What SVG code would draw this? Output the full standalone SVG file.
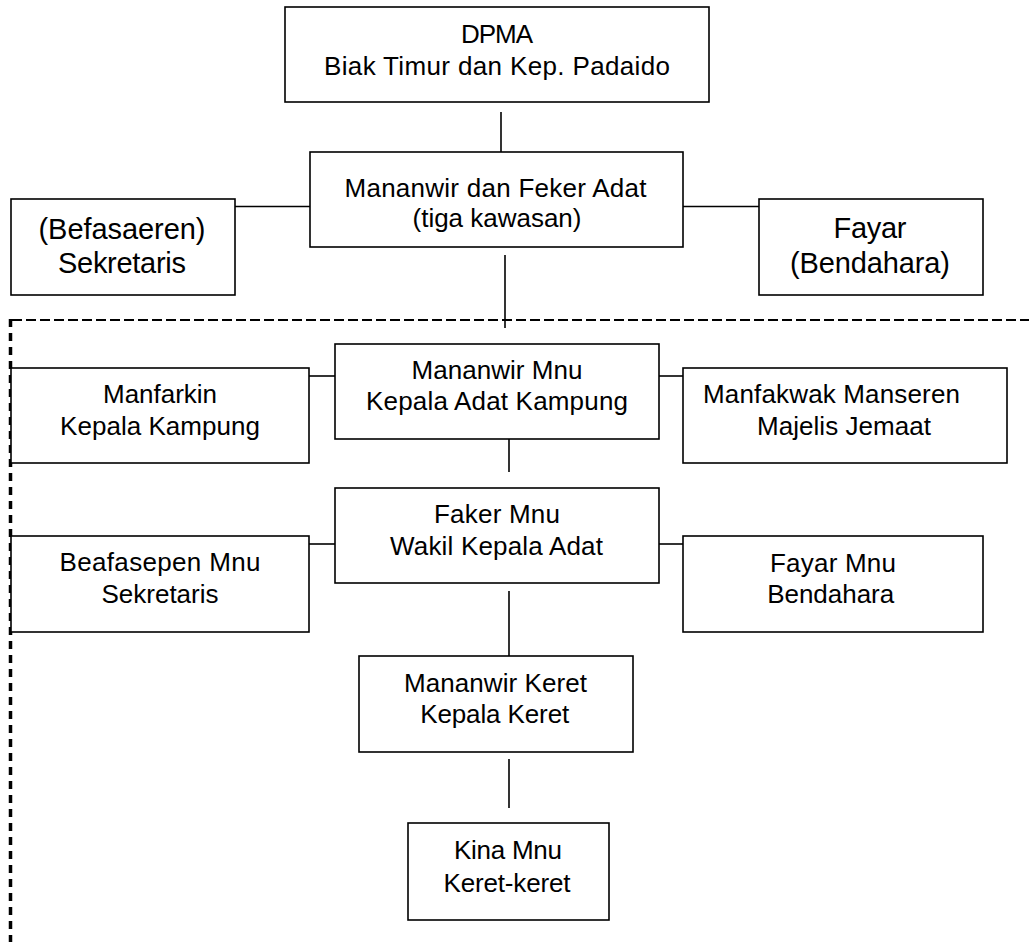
<svg xmlns="http://www.w3.org/2000/svg" width="1029" height="942" viewBox="0 0 1029 942">
<style>
.box{fill:#fff;stroke:#000;stroke-width:1.6}
.ln{stroke:#000;stroke-width:1.6;fill:none}
.dash{stroke:#000;fill:none}
text{font-family:"Liberation Sans",Arial,sans-serif;font-size:26px;fill:#000;text-anchor:middle}
.big{font-size:29px}
</style>
<rect width="1029" height="942" fill="#fff"/>
<g id="connectors">
<line class="ln" x1="501" y1="112" x2="501" y2="159"/>
<line class="ln" x1="235" y1="206.5" x2="310" y2="206.5"/>
<line class="ln" x1="683" y1="206.5" x2="759" y2="206.5"/>
<line class="ln" x1="505" y1="255" x2="505" y2="328"/>
<line class="ln" x1="309" y1="376" x2="335" y2="376"/>
<line class="ln" x1="659" y1="376" x2="683" y2="376"/>
<line class="ln" x1="509" y1="423" x2="509" y2="472"/>
<line class="ln" x1="309" y1="544" x2="335" y2="544"/>
<line class="ln" x1="659" y1="544" x2="683" y2="544"/>
<line class="ln" x1="509" y1="591" x2="509" y2="663"/>
<line class="ln" x1="509" y1="759" x2="509" y2="808"/>
<line class="dash" x1="12" y1="320" x2="1029" y2="320" stroke-width="2" stroke-dasharray="10 4"/>
<line class="dash" x1="10.5" y1="319" x2="10.5" y2="942" stroke-width="3.5" stroke-dasharray="8 6"/>
</g>
<g id="dpma">
<rect class="box" x="285" y="7" width="424" height="95"/>
<text x="497" y="43" textLength="72">DPMA</text>
<text x="497" y="75" textLength="346">Biak Timur dan Kep. Padaido</text>
</g>
<g id="mananwir-feker">
<rect class="box" x="310" y="152" width="373" height="95"/>
<text x="495.5" y="197" textLength="302">Mananwir dan Feker Adat</text>
<text x="497" y="227" textLength="169">(tiga kawasan)</text>
</g>
<g id="befasaeren">
<rect class="box" x="11" y="199" width="224" height="96"/>
<text class="big" x="122" y="239" textLength="167">(Befasaeren)</text>
<text class="big" x="122" y="273" textLength="128">Sekretaris</text>
</g>
<g id="fayar">
<rect class="box" x="759" y="199" width="224" height="96"/>
<text class="big" x="870" y="238" textLength="73">Fayar</text>
<text class="big" x="870" y="273" textLength="160">(Bendahara)</text>
</g>
<g id="manfarkin">
<rect class="box" x="11" y="368" width="298" height="95"/>
<text x="160" y="403" textLength="114">Manfarkin</text>
<text x="160" y="435" textLength="200">Kepala Kampung</text>
</g>
<g id="mananwir-mnu">
<rect class="box" x="335" y="344" width="324" height="95"/>
<text x="497" y="379" textLength="171">Mananwir Mnu</text>
<text x="497" y="410" textLength="262">Kepala Adat Kampung</text>
</g>
<g id="manfakwak">
<rect class="box" x="683" y="368" width="324" height="95"/>
<text x="831.5" y="403" textLength="257">Manfakwak Manseren</text>
<text x="844" y="435" textLength="174">Majelis Jemaat</text>
</g>
<g id="beafasepen">
<rect class="box" x="11" y="536" width="298" height="96"/>
<text x="160" y="571" textLength="201">Beafasepen Mnu</text>
<text x="160" y="603" textLength="117">Sekretaris</text>
</g>
<g id="faker-mnu">
<rect class="box" x="335" y="488" width="324" height="95"/>
<text x="497" y="523" textLength="126">Faker Mnu</text>
<text x="496.5" y="555" textLength="213">Wakil Kepala Adat</text>
</g>
<g id="fayar-mnu">
<rect class="box" x="683" y="536" width="300" height="96"/>
<text x="833" y="572" textLength="126">Fayar Mnu</text>
<text x="830.7" y="603" textLength="127">Bendahara</text>
</g>
<g id="mananwir-keret">
<rect class="box" x="359" y="656" width="274" height="96"/>
<text x="495.5" y="692" textLength="183">Mananwir Keret</text>
<text x="494.7" y="723" textLength="149">Kepala Keret</text>
</g>
<g id="kina-mnu">
<rect class="box" x="408" y="823" width="201" height="97"/>
<text x="508" y="859" textLength="108">Kina Mnu</text>
<text x="507" y="892" textLength="127">Keret-keret</text>
</g>
</svg>
